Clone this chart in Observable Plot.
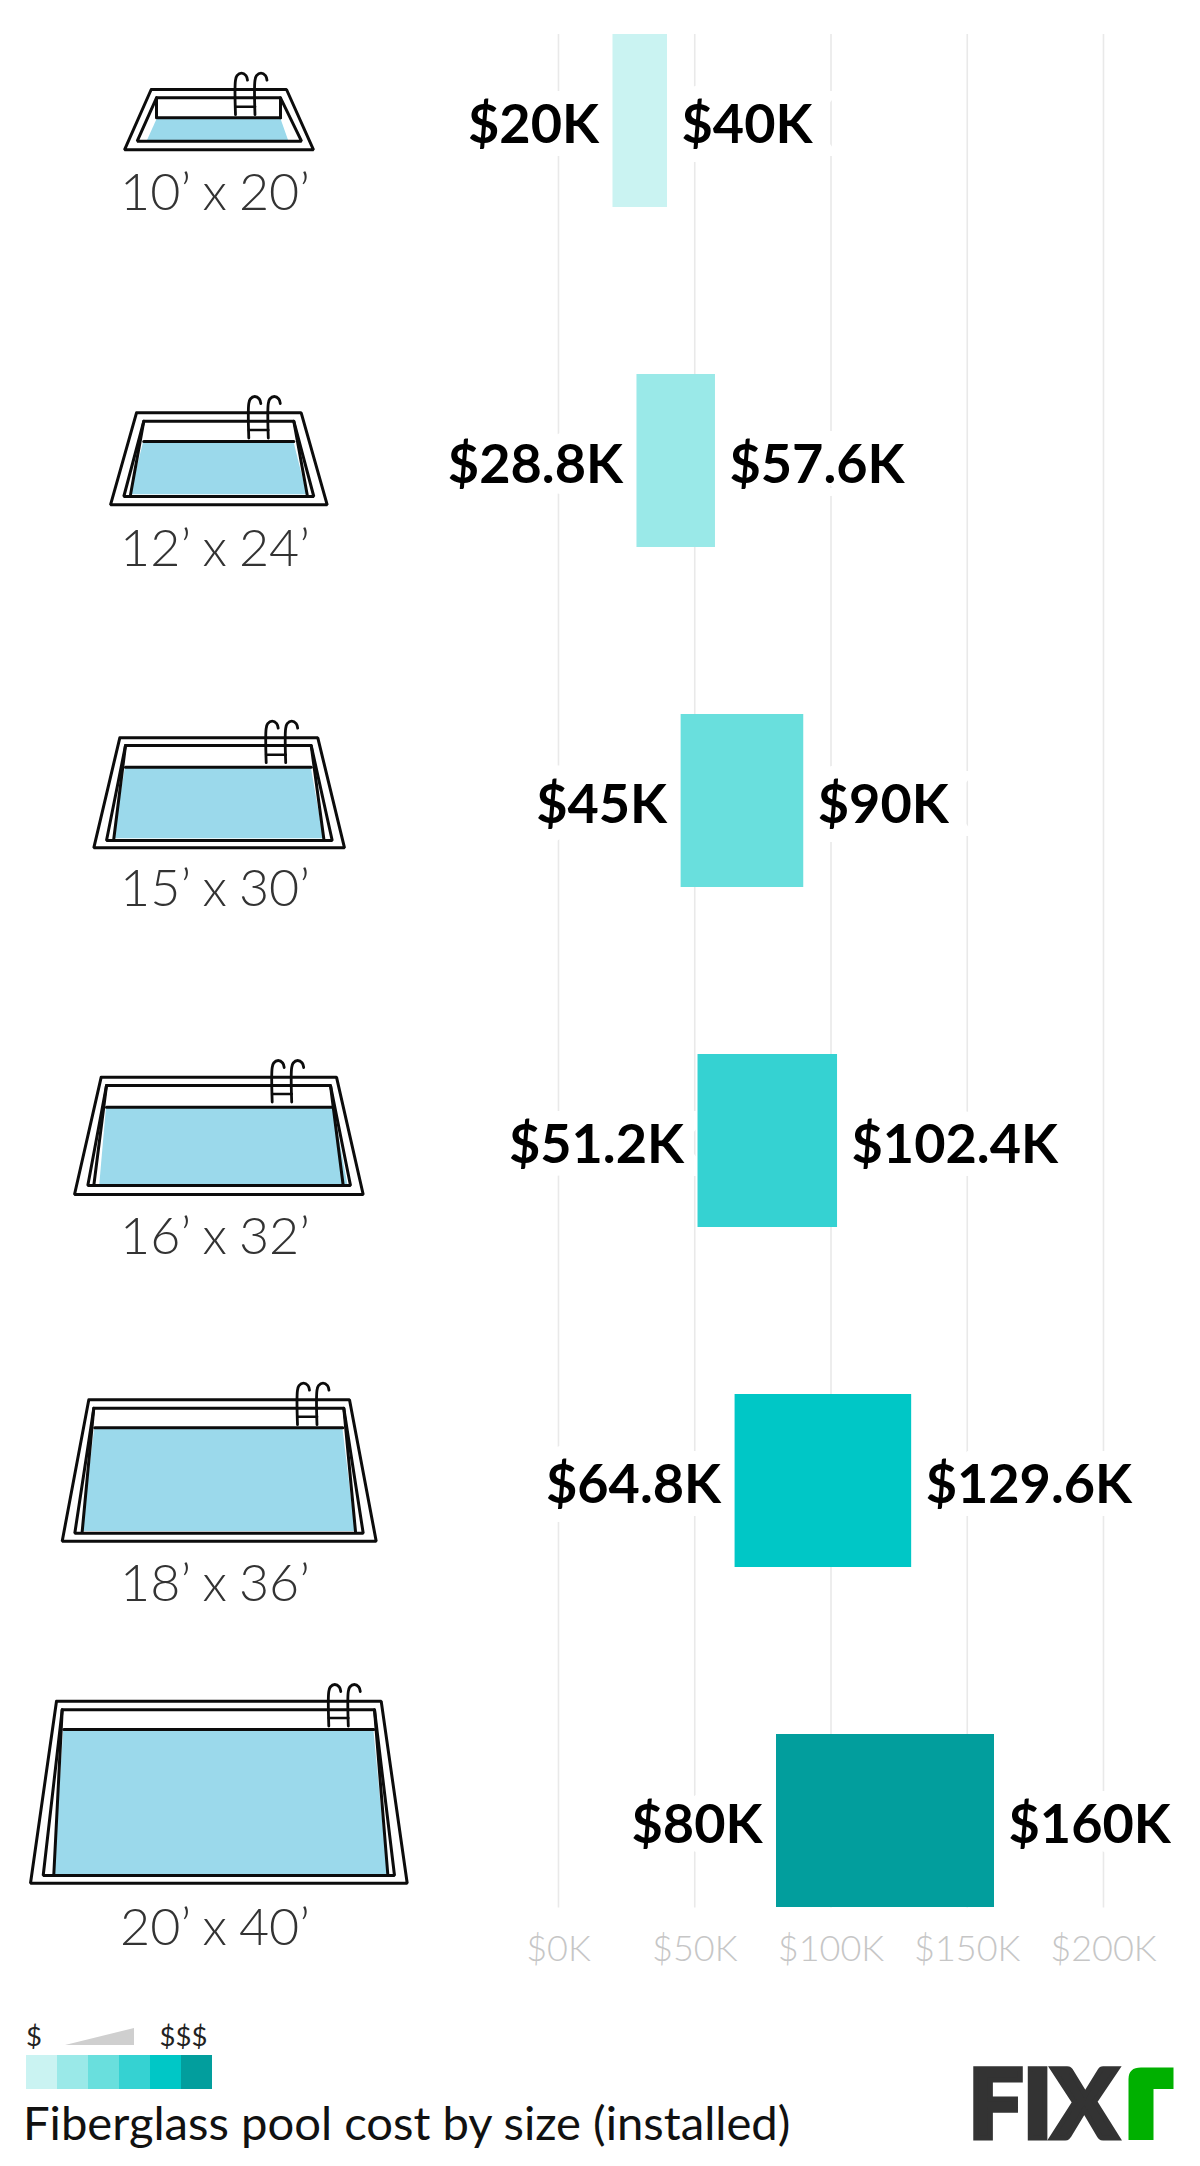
<!DOCTYPE html>
<html>
<head>
<meta charset="utf-8">
<script src="https://cdn.jsdelivr.net/npm/d3@7"></script>
<script src="https://cdn.jsdelivr.net/npm/@observablehq/plot@0.6"></script>
<style>
html,body{margin:0;padding:0;background:#fff;font-family:Lato,sans-serif;}
#page{width:1200px;height:2166px;position:relative;overflow:hidden;}
#charts{display:flex;width:1200px;height:2000px;}
#charts svg{display:block;overflow:visible;background:transparent;}
#footer{position:absolute;left:0;top:2000px;width:1200px;height:166px;}
#swatches{position:absolute;left:26px;top:55px;display:flex;}
#swatches div{width:31px;height:34px;}
.dollar{position:absolute;font-size:27.5px;font-weight:400;color:#222;line-height:1;}
#title{position:absolute;left:23px;top:94px;font-size:47.2px;font-weight:400;color:#111;line-height:1.2;white-space:nowrap;}
#art{position:absolute;left:0;top:0;}
</style>
</head>
<body>
<div id="page"><div id="charts"></div>
<div id="footer">
<svg id="art" width="1200" height="166"></svg>
<span class="dollar" style="left:26px;top:22px">$</span>
<span class="dollar" style="left:159.5px;top:22px">$$$</span>
<div id="swatches"></div>
<div id="title">Fiberglass pool cost by size (installed)</div>
</div>
</div>
<script>
// ---- data ----
const sizes = ["10’ x 20’", "12’ x 24’", "15’ x 30’", "16’ x 32’", "18’ x 36’", "20’ x 40’"];
const lowCost = [20, 28.8, 45, 51.2, 64.8, 80];
const highCost = [40, 57.6, 90, 102.4, 129.6, 160];
const lowLabels = ["$20K", "$28.8K", "$45K", "$51.2K", "$64.8K", "$80K"];
const highLabels = ["$40K", "$57.6K", "$90K", "$102.4K", "$129.6K", "$160K"];
const barColors = ["#caf3f2", "#9ae9e8", "#69dfdd", "#35d2d2", "#00c7c6", "#029e9d"];
const xTicks = [0, 50, 100, 150, 200];
const xTickLabels = ["$0K", "$50K", "$100K", "$150K", "$200K"];
const labelCentreY = [193, 549, 889, 1237, 1584, 1928];

// pool illustrations: [top-left x, top-right x, bottom-left x, bottom-right x, top y, bottom y]
const outerEdges = [
  [150.7, 286, 124, 313, 89, 149.3],
  [136, 300.7, 110, 326.7, 412.3, 504.3],
  [119.3, 317.3, 93.3, 344, 737.3, 847.3],
  [100.7, 336, 74, 362.7, 1076.7, 1194],
  [88.3, 349, 61.7, 375.7, 1399.3, 1540.7],
  [56, 380.7, 30, 406.7, 1700.7, 1882.7]
];
const rimEdges = [
  [156, 280, 136.7, 301, 97.3, 140.7],
  [143.3, 293.3, 123.3, 313.3, 420.7, 496],
  [125, 310.7, 106, 331.7, 745, 840],
  [106, 330, 87.3, 350, 1085, 1185],
  [93.3, 343.3, 74.3, 362.7, 1407.7, 1532.7],
  [61.7, 374, 42.7, 394, 1709.3, 1875]
];
const waterEdges = [
  [157.3, 280, 146.7, 288.3, 117.3, 140.7],
  [143.3, 293.3, 130, 306.7, 441, 494.3],
  [125, 310.7, 113.3, 323.3, 766.7, 838.3],
  [106, 333, 99.3, 347.3, 1106.7, 1184],
  [94.3, 342.3, 81.7, 355, 1427.3, 1531],
  [63.3, 373.3, 53.3, 387.3, 1729, 1874]
];
// [left foot x, right foot x, foot y] of the inner wall lines
const wallFoot = [
  [156, 280, 117.3],
  [130, 306.7, 494.3],
  [113.3, 323.3, 838.3],
  [93.3, 342.7, 1185],
  [81.7, 355, 1531],
  [53.3, 387.3, 1874]
];
const ladderAt = [[235, 72.7], [248.3, 396], [265.7, 720.7], [271.7, 1060], [297, 1382.7], [328.3, 1684]];
const ladderHook = [[0, 41.5], [0, 7], [1.5, 2.5], [6, 0], [10.5, 2.5], [12, 7]];
const rungOffsets = [33.5];
const railGap = 19.5;
const poolInk = "#0c0c0c";
const poolWater = "#9bd9eb";
const lato = "Lato, sans-serif";

// ---- tables ----
const rows = sizes.map((size, i) => ({size, low: lowCost[i], high: highCost[i], lowLabel: lowLabels[i], highLabel: highLabels[i]}));
const waterRows = waterEdges.flatMap((e, p) => [{p, y: e[4], x1: e[0], x2: e[1]}, {p, y: e[5], x1: e[2], x2: e[3]}]);
const trapezoid = (e, p, kind) => [[e[0], e[4]], [e[1], e[4]], [e[3], e[5]], [e[2], e[5]], [e[0], e[4]]].map(([x, y]) => ({x, y, id: kind + p}));
const outlineRows = [...outerEdges.map((e, p) => trapezoid(e, p, "o")), ...rimEdges.map((e, p) => trapezoid(e, p, "r"))].flat();
const segmentRows = waterEdges.flatMap((w, p) => {
  const r = rimEdges[p], f = wallFoot[p];
  return [
    {id: "w" + p, x: w[0], y: w[4]}, {id: "w" + p, x: w[1], y: w[4]},
    {id: "l" + p, x: r[0], y: r[4]}, {id: "l" + p, x: f[0], y: f[2]},
    {id: "k" + p, x: r[1], y: r[4]}, {id: "k" + p, x: f[1], y: f[2]}
  ];
});
const hookRows = ladderAt.flatMap(([x, y], p) => [0, railGap].flatMap(g => ladderHook.map(([dx, dy]) => ({id: `${p}-${g}`, x: x + g + dx, y: y + dy}))));
const rungRows = ladderAt.flatMap(([x, y], p) => rungOffsets.flatMap((o, i) => [{id: `${p}-${i}`, x, y: y + o}, {id: `${p}-${i}`, x: x + railGap, y: y + o}]));
const labelRows = sizes.map((size, i) => ({size, y: labelCentreY[i]}));

// ---- left column: pool icons and size names ----
const iconPlot = Plot.plot({
  width: 420, height: 2000, margin: 0,
  x: {domain: [0, 420], range: [0, 420], axis: null},
  y: {domain: [0, 2000], range: [0, 2000], axis: null},
  style: {fontFamily: lato, background: "transparent", wordSpacing: "-2px"},
  marks: [
    Plot.areaX(waterRows, {y: "y", x1: "x1", x2: "x2", z: "p", fill: poolWater}),
    Plot.line(outlineRows, {x: "x", y: "y", z: "id", stroke: poolInk, strokeWidth: 3, strokeLinejoin: "miter"}),
    Plot.line(segmentRows, {x: "x", y: "y", z: "id", stroke: poolInk, strokeWidth: 3, strokeLinecap: "round"}),
    Plot.line(hookRows, {x: "x", y: "y", z: "id", stroke: poolInk, strokeWidth: 2.8, curve: "catmull-rom"}),
    Plot.line(rungRows, {x: "x", y: "y", z: "id", stroke: poolInk, strokeWidth: 2.6}),
    Plot.text(labelRows, {x: () => 214.5, y: "y", text: "size", fontSize: 52, fontWeight: 300, fill: "#333", textAnchor: "middle"})
  ]
});

// ---- right column: the range bars ----
const textBase = {y: "size", dy: 4.5, fontSize: 54, fontWeight: 700, fill: "#000", stroke: "#fff", strokeWidth: 26, strokeLinejoin: "miter"};
const chart = Plot.plot({
  width: 780, height: 2000,
  marginLeft: 138, marginRight: 97, marginTop: 34, marginBottom: 92.5,
  x: {domain: [0, 200], axis: null},
  y: {domain: sizes, axis: null, paddingInner: 0.49, paddingOuter: 0, align: 0},
  color: {domain: sizes, range: barColors},
  style: {fontFamily: lato, background: "transparent"},
  marks: [
    Plot.ruleX(xTicks, {stroke: "#e9e9e9", strokeWidth: 1.6}),
    Plot.text(rows, {...textBase, x: "low", text: "lowLabel", textAnchor: "end", dx: -14}),
    Plot.text(rows, {...textBase, x: "high", text: "highLabel", textAnchor: "start", dx: 14}),
    Plot.barX(rows, {x1: "low", x2: "high", y: "size", fill: "size"}),
    Plot.axisX({anchor: "bottom", ticks: xTicks, tickFormat: (d, i) => xTickLabels[i], tickSize: 0, tickPadding: 27.5, fontSize: 36, fontWeight: 300, fontVariant: "normal", fill: "#c6c6c6", stroke: "none", label: null})
  ]
});
document.getElementById("charts").append(iconPlot, chart);

// ---- footer ----
const sw = document.getElementById("swatches");
barColors.forEach(c => { const d = document.createElement("div"); d.style.background = c; sw.append(d); });
document.getElementById("art").innerHTML = `
  <path d="M65 45 L134 28 L134 45 Z" fill="#cfcfcf"/>
  <title>Fixr</title>
  <text x="968.5" y="137.5" font-family="Lato" font-weight="900" font-size="95" fill="#333" stroke="#333" stroke-width="5" textLength="149" lengthAdjust="spacingAndGlyphs">FIX</text>
  <path d="M1128.5 140 V79 Q1128.5 67.5 1141 67.5 H1173.5 V89 H1153.5 V140 Z" fill="#00b000"/>`;
</script>
</body>
</html>
